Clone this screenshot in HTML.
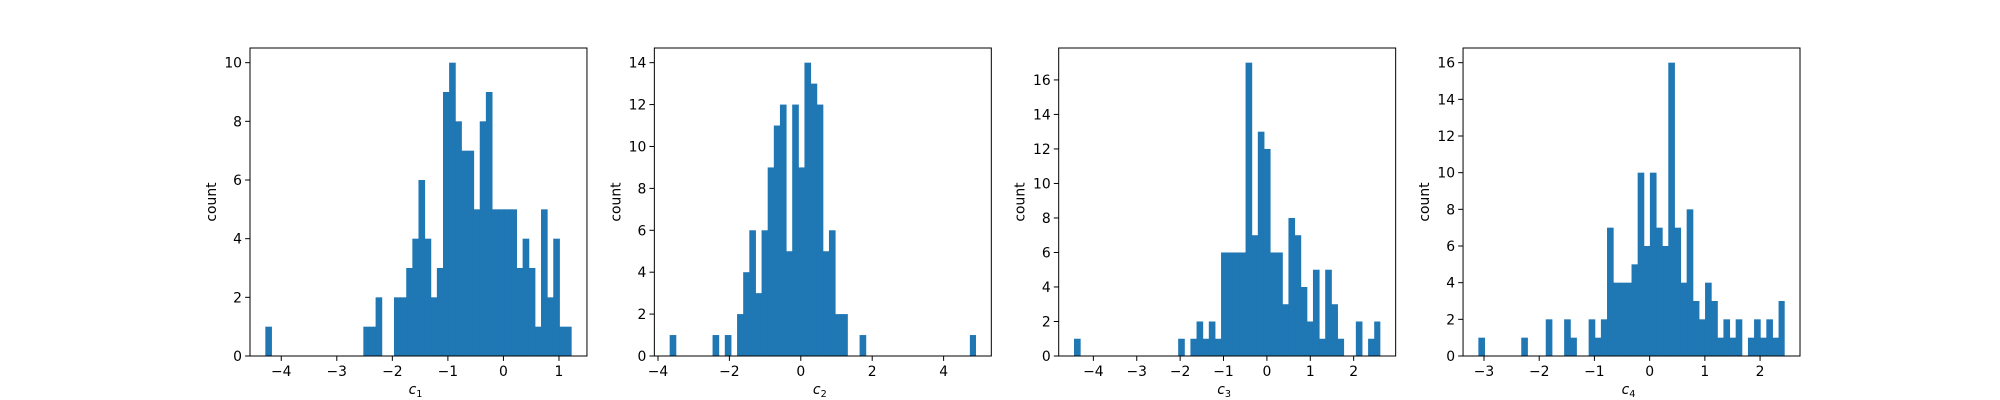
<!DOCTYPE html>
<html><head><meta charset="utf-8"><style>
html,body{margin:0;padding:0;background:#fff;}
svg{display:block;font-family:"DejaVu Sans","Liberation Sans",sans-serif;}
</style></head><body>
<svg id="fig" width="2000" height="400" viewBox="0 0 2000 400" xmlns="http://www.w3.org/2000/svg"></svg>
<script>
const counts1 = [1,0,0,0,0,0,0,0,0,0,0,0,0,0,0,0,1,1,2,0,0,2,2,3,4,6,4,2,3,9,10,8,7,7,5,8,9,5,5,5,5,3,4,3,1,5,2,4,1,1];
const counts2 = [1,0,0,0,0,0,0,1,0,1,0,2,4,6,3,6,9,11,12,5,12,9,14,13,12,5,6,2,2,0,0,1,0,0,0,0,0,0,0,0,0,0,0,0,0,0,0,0,0,1];
const counts3 = [1,0,0,0,0,0,0,0,0,0,0,0,0,0,0,0,0,1,0,1,2,1,2,1,6,6,6,6,17,7,13,12,6,6,3,8,7,4,2,5,1,5,3,1,0,0,2,0,1,2];
const counts4 = [1,0,0,0,0,0,0,1,0,0,0,2,0,0,2,1,0,0,2,1,2,7,4,4,4,5,10,6,10,7,6,16,7,4,8,3,2,4,3,1,2,1,2,0,1,2,1,2,1,3];
const binRanges = [[-4.287,1.228],[-3.673,4.907],[-4.446,2.615],[-3.102,2.446]];
const xTicks1 = [-4,-3,-2,-1,0,1];
const xTicks2 = [-4,-2,0,2,4];
const xTicks3 = [-4,-3,-2,-1,0,1,2];
const xTicks4 = [-3,-2,-1,0,1,2];
const yTicks1 = [0,2,4,6,8,10];
const yTicks2 = [0,2,4,6,8,10,12,14];
const yTicks3 = [0,2,4,6,8,10,12,14,16];
const yTicks4 = [0,2,4,6,8,10,12,14,16];
const labels = ["1","2","3","4"];

const NS="http://www.w3.org/2000/svg";
const svg=document.getElementById('fig');
function mk(tag,attrs,parent){const e=document.createElementNS(NS,tag);for(const k in attrs)e.setAttribute(k,attrs[k]);(parent||svg).appendChild(e);return e;}
function fmt(v){return v<0?'\u2212'+Math.abs(v):String(v);}

const allCounts=[counts1,counts2,counts3,counts4];
const allX=[xTicks1,xTicks2,xTicks3,xTicks4];
const allY=[yTicks1,yTicks2,yTicks3,yTicks4];
const W=336.96, axTop=48, axBot=356, gap=67.39;
for(let p=0;p<4;p++){
  const L=250+p*(W+gap), R=L+W;
  const c=allCounts[p], lo=binRanges[p][0], hi=binRanges[p][1], rng=hi-lo;
  const x0=lo-0.05*rng, x1=hi+0.05*rng;
  const ymax=Math.max(...c)*1.05;
  const sx=v=>L+(v-x0)/(x1-x0)*W;
  const sy=v=>axBot-v/ymax*(axBot-axTop);
  const g=mk('g',{});
  
  
  const bw=rng/c.length;
  c.forEach((v,i)=>{
    if(v<=0)return;
    const a=sx(lo+i*bw), b=sx(lo+(i+1)*bw);
    const extra=(i<c.length-1)?0.5:0;
    const r=mk('rect',{x:a,y:sy(v),width:b-a+extra,height:sy(0)-sy(v),fill:'#1f77b4'},g);
    
    
  });
  const fr=mk('rect',{x:L,y:axTop,width:W,height:axBot-axTop,fill:'none',stroke:'#000','stroke-width':1},g);
  
  
  allX[p].forEach(t=>{
    const x=sx(t);
    mk('line',{x1:x,x2:x,y1:axBot,y2:axBot+4.9,stroke:'#000','stroke-width':1},g);
    const tx=mk('text',{x:x,y:axBot+20,'font-size':13.9,'text-anchor':'middle',fill:'#000'},g);
    tx.textContent=fmt(t);
    
    
  });
  allY[p].forEach(t=>{
    const y=sy(t);
    mk('line',{x1:L-4.9,x2:L,y1:y,y2:y,stroke:'#000','stroke-width':1},g);
    const tx=mk('text',{x:L-8,y:y+5,'font-size':13.9,'text-anchor':'end',fill:'#000'},g);
    tx.textContent=fmt(t);
    
    
  });
  const yl=mk('text',{x:0,y:0,'font-size':13.9,'text-anchor':'middle',fill:'#000',transform:`translate(${L-34},${(axTop+axBot)/2}) rotate(-90)`},g);
  yl.textContent='count';
  
  
  const xl=mk('text',{x:(L+R)/2-3,y:axBot+38,'font-size':13.9,'text-anchor':'middle',fill:'#000','font-style':'italic'},g);
  
  
  xl.appendChild(document.createTextNode('c'));
  const sub=mk('tspan',{'font-size':9.7,dy:3,'font-style':'normal'},xl);
  sub.textContent=labels[p];
}
</script>
</body></html>
